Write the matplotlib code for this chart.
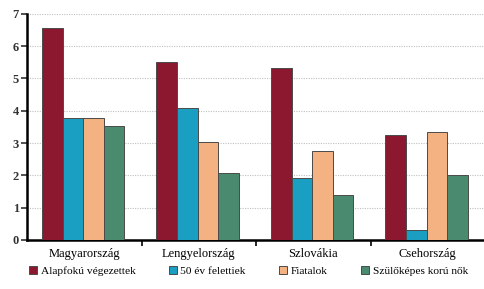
import numpy as np
import matplotlib
matplotlib.use('Agg')
import matplotlib.pyplot as plt
from matplotlib.patches import Patch

plt.rcParams['font.family'] = ['Liberation Serif', 'DejaVu Serif']

# --- adatok ---
countries = ['Magyarország', 'Lengyelország', 'Szlovákia', 'Csehország']
series = ['Alapfokú végezettek', '50 év felettiek', 'Fiatalok', 'Szülőképes korú nők']
alapfoku = [6.56, 5.52, 5.31, 3.25]
felett50 = [3.76, 4.07, 1.91, 0.31]
fiatalok = [3.79, 3.04, 2.76, 3.35]
szulokepes = [3.54, 2.07, 1.39, 2.02]
colors = ['#8c1830', '#1a9ec2', '#f4b282', '#4a8b6f']

values = [alapfoku, felett50, fiatalok, szulokepes]
x = np.arange(len(countries))
w = 0.18

fig = plt.figure(figsize=(4.85, 2.89), dpi=100)
ax = fig.add_axes([0.056, 0.17, 0.944, 0.782])

for i, (vals, c) in enumerate(zip(values, colors)):
    ax.bar(x + (i - 1.5) * w - 0.01, vals, w, color=c, edgecolor='#4a4a4a',
           linewidth=0.7, zorder=3)

ax.set_xlim(-0.5, 3.5)
ax.set_ylim(0, 7)
ax.set_yticks(range(8))
ax.yaxis.grid(True, ls=(0, (1, 1.2)), color='#c0c0c0', lw=0.8, zorder=0)
ax.set_xticks(x)
ax.set_xticklabels(countries, fontsize=9)
ax.set_xticks([0.5, 1.5, 2.5], minor=True)
ax.tick_params(axis='x', which='major', length=0, pad=6)
ax.tick_params(axis='x', which='minor', length=4, width=1.2, direction='out')
ax.tick_params(axis='y', length=4, width=1.2, labelsize=9, colors='#333333', pad=2)
for lab in ax.get_yticklabels():
    lab.set_fontweight('bold')
for s in ['top', 'right']:
    ax.spines[s].set_visible(False)
ax.spines['left'].set_linewidth(1.8)
ax.spines['bottom'].set_linewidth(1.8)

handles = [Patch(facecolor=c, edgecolor='#4a4a4a', lw=0.7) for c in colors]
fig.legend(handles, series, loc='center left', bbox_to_anchor=(0.05, 0.062), ncol=4,
           frameon=False, fontsize=8.2, handlelength=0.75, handleheight=0.75,
           handletextpad=0.3, columnspacing=2.9, borderaxespad=0)

fig.savefig('out.png', dpi=100)
